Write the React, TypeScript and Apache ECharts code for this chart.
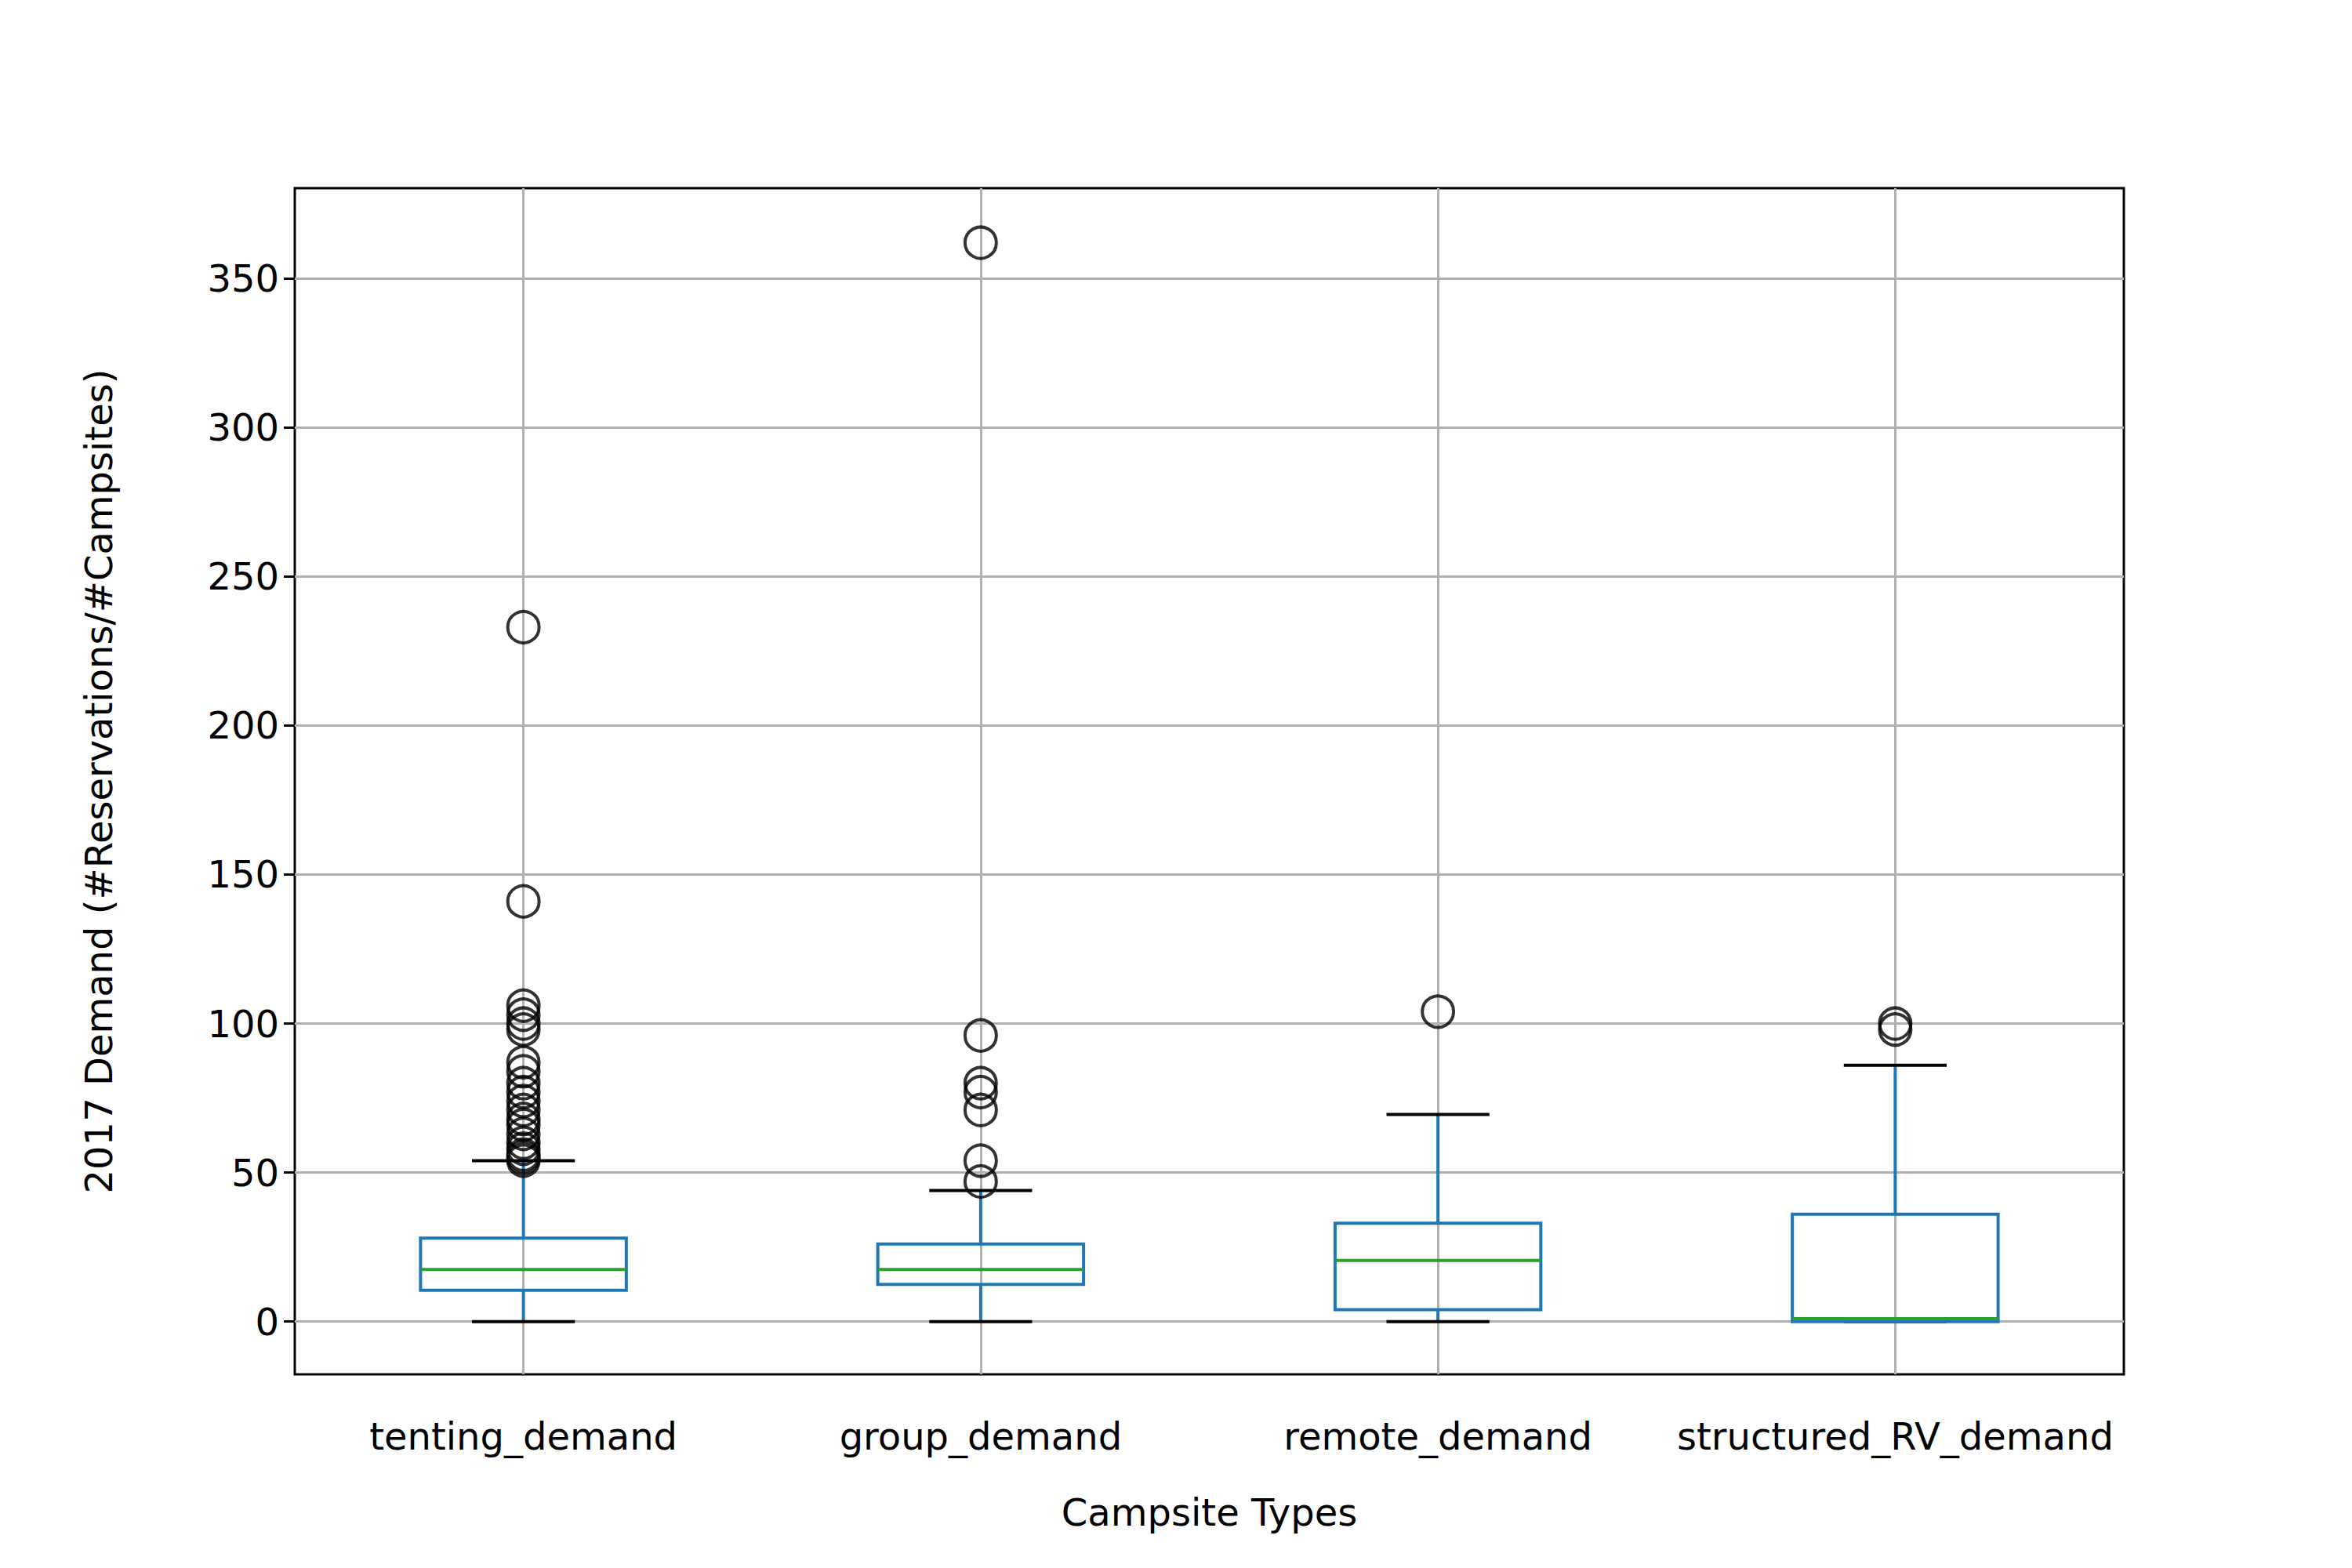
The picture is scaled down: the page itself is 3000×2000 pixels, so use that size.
import { useEffect, useRef } from "react";
import * as echarts from "echarts";

const categories = ["tenting_demand", "group_demand", "remote_demand", "structured_RV_demand"];
// [position, lower whisker, Q1, median, Q3, upper whisker]
const boxes = [
  [1, 0, 10.5, 17.5, 28, 54],
  [2, 0, 12.5, 17.5, 26, 44],
  [3, 0, 4, 20.5, 33, 69.5],
  [4, 0, 0, 1, 36, 86],
];
const tentingOutliers = [233, 141, 106, 103, 100, 98, 87, 84, 80, 77, 74, 71, 68, 66, 63, 60, 58, 56, 55, 54];
const groupOutliers = [362, 96, 80, 77, 71, 54, 47];
const remoteOutliers = [104];
const rvOutliers = [100, 98];
const yTicks = [0, 50, 100, 150, 200, 250, 300, 350];
const xTicks = [1, 2, 3, 4];

const BLUE = "#1f77b4";
const GREEN = "#2ca02c";
const GRID = "#b0b0b0";
const FONT = "DejaVu Sans";

export default function App() {
  const ref = useRef<HTMLDivElement>(null);

  useEffect(() => {
    document.body.style.margin = "0";
    if (!ref.current) return;
    const chart = echarts.init(ref.current, null, { renderer: "svg" });

    const outliers = [
      ...tentingOutliers.map((v) => [1, v]),
      ...groupOutliers.map((v) => [2, v]),
      ...remoteOutliers.map((v) => [3, v]),
      ...rvOutliers.map((v) => [4, v]),
    ];

    const lw = 4;
    chart.setOption({
      animation: false,
      backgroundColor: "#fff",
      grid: {
        left: 376, right: 291, top: 240, bottom: 247,
        show: true, borderColor: "#000", borderWidth: 3, backgroundColor: "transparent",
      },
      xAxis: {
        type: "value", min: 0.5, max: 4.5,
        name: "Campsite Types", nameLocation: "middle", nameGap: 152,
        nameTextStyle: { fontFamily: FONT, fontSize: 48, color: "#000" },
        axisLine: { show: false },
        axisTick: { show: true, length: 14, customValues: xTicks, lineStyle: { color: "#000", width: 3 } },
        axisLabel: {
          customValues: xTicks, fontFamily: FONT, fontSize: 48, color: "#000", margin: 55,
          hideOverlap: false,
          formatter: (v: number) => categories[Math.round(v) - 1] ?? "",
        },
        splitLine: { show: false },
      },
      yAxis: {
        type: "value", min: -17.7, max: 380.3,
        name: "2017 Demand (#Reservations/#Campsites)", nameLocation: "middle", nameGap: 226,
        nameTextStyle: { fontFamily: FONT, fontSize: 48, color: "#000" },
        axisLine: { show: false },
        axisTick: { show: true, length: 14, customValues: yTicks, lineStyle: { color: "#000", width: 3 } },
        axisLabel: { customValues: yTicks, fontFamily: FONT, fontSize: 48, color: "#000", margin: 20 },
        splitLine: { show: false },
      },
      series: [
        {
          type: "scatter",
          data: [],
          silent: true,
          z: 1,
          markLine: {
            symbol: "none", silent: true, label: { show: false }, z: 1,
            lineStyle: { color: GRID, width: 3, type: "solid" },
            data: [...yTicks.map((y) => ({ yAxis: y })), ...xTicks.map((x) => ({ xAxis: x }))],
          },
        },
        {
          type: "custom",
          data: boxes,
          encode: { x: 0, y: [1, 2, 3, 4, 5] },
          z: 20,
          renderItem: (params: any, api: any) => {
            const x = api.value(0);
            const [cx, yMin] = api.coord([x, api.value(1)]);
            const yQ1 = api.coord([x, api.value(2)])[1];
            const yMed = api.coord([x, api.value(3)])[1];
            const yQ3 = api.coord([x, api.value(4)])[1];
            const yMax = api.coord([x, api.value(5)])[1];
            const hw = api.size([0.45, 0])[0] / 2;
            const cw = api.size([0.225, 0])[0] / 2;
            const line = (x1: number, y1: number, x2: number, y2: number, color: string) => ({
              type: "line",
              z2: 10,
              shape: { x1, y1, x2, y2 },
              style: { stroke: color, lineWidth: lw },
            });
            return {
              type: "group",
              children: [
                line(cx, yQ1, cx, yMin, BLUE),
                line(cx, yQ3, cx, yMax, BLUE),
                line(cx - cw, yMin, cx + cw, yMin, "#000"),
                line(cx - cw, yMax, cx + cw, yMax, "#000"),
                {
                  type: "rect",
                  z2: 10,
                  shape: { x: cx - hw, y: yQ3, width: hw * 2, height: yQ1 - yQ3 },
                  style: { fill: "none", stroke: BLUE, lineWidth: lw },
                },
                line(cx - hw, yMed, cx + hw, yMed, GREEN),
              ],
            };
          },
        },
        {
          type: "scatter",
          data: outliers,
          symbol: "circle",
          symbolSize: 40,
          itemStyle: { color: "transparent", borderColor: "#000", borderWidth: 4 },
          z: 21,
        },
      ],
    });
    return () => chart.dispose();
  }, []);

  return <div ref={ref} style={{ width: 3000, height: 2000 }} />;
}
